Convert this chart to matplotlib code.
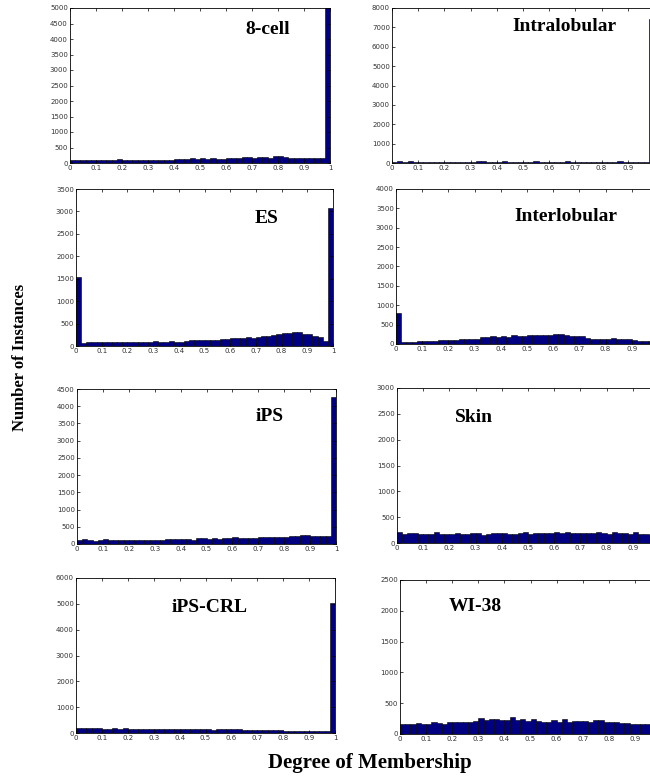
import numpy as np
import matplotlib
matplotlib.use("Agg")
import matplotlib.pyplot as plt

bin_edges = np.linspace(0, 1, 51)

cell8 = [110,100,110,100,110,110,90,110,100,130, 110,110,100,110,110,110,100,110,110,110,
         130,140,120,150,120,160,140,150,140,140, 150,160,150,190,180,170,180,190,170,230,
         210,200,170,170,170,170,160,170,150,5200]
intralobular = [60,80,70,90,60,60,60,60,60,60, 60,50,70,70,60,60,80,90,70,60,
                60,90,60,70,60,60,60,90,70,60, 60,70,60,80,60,60,70,60,60,50,
                60,60,50,80,70,50,70,60,60,7450]
es = [1530,70,100,90,80,80,80,90,80,100, 80,100,100,80,90,110,100,100,110,100,
      100,110,130,130,140,130,130,130,150,160, 180,170,180,210,180,190,230,220,240,270,
      290,290,310,320,270,270,220,190,120,3070]
interlobular = [800,60,60,60,70,80,80,80,100,100, 110,110,120,130,130,130,190,170,200,190,
                200,190,230,210,210,230,220,220,240,240, 250,260,240,210,210,210,160,140,140,140,
                130,160,120,120,120,100,90,80,70,50]
ips = [130,140,120,100,110,140,120,130,110,120, 110,120,130,130,130,120,110,150,140,150,
       150,150,130,160,170,150,160,150,160,170, 190,170,180,170,180,200,190,200,200,200,
       200,220,240,250,250,240,240,240,220,4280]
skin = [210,170,200,200,180,180,170,210,180,180, 180,190,180,180,190,190,160,180,190,190,
        190,170,180,190,210,170,190,200,200,190, 220,190,220,200,190,200,200,190,220,200,
        180,220,200,200,180,210,170,180,160,150]
ips_crl = [180,180,180,180,180,170,170,210,160,190, 170,170,170,160,170,170,170,160,170,170,
           170,170,150,170,170,170,130,140,150,140, 150,140,110,110,110,100,110,110,100,110,
           80,90,90,80,80,70,80,80,60,5030]
wi38 = [170,170,160,180,170,170,200,180,160,190, 190,200,200,200,210,260,230,240,240,230,
        230,270,220,240,210,240,210,190,190,220, 200,240,190,210,210,210,190,230,220,200,
        200,190,180,180,170,170,170,170,160,150]

titles = ["8-cell", "Intralobular", "ES", "Interlobular", "iPS", "Skin", "iPS-CRL", "WI-38"]
series = [cell8, intralobular, es, interlobular, ips, skin, ips_crl, wi38]
ymax = [5000, 8000, 3500, 4000, 4500, 3000, 6000, 2500]
ystep = [500, 1000, 500, 500, 500, 500, 1000, 500]
xticks = [0, 0.1, 0.2, 0.3, 0.4, 0.5, 0.6, 0.7, 0.8, 0.9, 1]
xticklabels_left = ["0", "0.1", "0.2", "0.3", "0.4", "0.5", "0.6", "0.7", "0.8", "0.9", "1"]
xticklabels_right = ["0", "0.1", "0.2", "0.3", "0.4", "0.5", "0.6", "0.7", "0.8", "0.9", ""]

W, H = 650, 778
fig = plt.figure(figsize=(W/100, H/100), dpi=100)

# pixel boxes: (left, top, right, bottom)
boxes = [
    (70, 8, 330, 163), (392, 8, 654, 163),
    (76, 189, 333, 346), (396, 189, 658, 344),
    (77, 389, 336, 544), (397, 388, 659, 543),
    (76, 578, 335, 733), (400, 580, 661, 734),
]
title_pos = [(0.76, 0.86), (0.66, 0.88), (0.74, 0.81), (0.65, 0.82),
             (0.745, 0.82), (0.294, 0.81), (0.517, 0.81), (0.29, 0.825)]

serif = ["Liberation Serif", "DejaVu Serif"]
for i in range(8):
    l, t, r, b = boxes[i]
    ax = fig.add_axes([l/W, 1 - b/H, (r - l)/W, (b - t)/H])
    ax.bar(bin_edges[:-1], series[i], width=np.diff(bin_edges), align="edge",
           color="#000080", edgecolor="black", linewidth=0.4)
    ax.set_xlim(0, 1)
    ax.set_ylim(0, ymax[i])
    ax.set_xticks(xticks)
    ax.set_xticklabels(xticklabels_left if i % 2 == 0 else xticklabels_right)
    ax.set_yticks(np.arange(0, ymax[i] + 1, ystep[i]))
    ax.tick_params(direction="in", length=2.5, width=0.5, labelsize=5,
                   labelcolor="#333333", top=True, right=True, pad=1.5)
    for s in ax.spines.values():
        s.set_linewidth(0.6)
    ax.text(title_pos[i][0], title_pos[i][1], titles[i], transform=ax.transAxes,
            ha="center", va="center", fontsize=14, fontweight="bold", family=serif)

fig.text(20/W, 1 - 357/H, "Number of Instances", rotation=90, ha="center", va="center",
         fontsize=12, fontweight="bold", family=serif)
fig.text(370/W, 1 - 763/H, "Degree of Membership", ha="center", va="center",
         fontsize=15, fontweight="bold", family=serif)

fig.savefig("out.png", dpi=100)
